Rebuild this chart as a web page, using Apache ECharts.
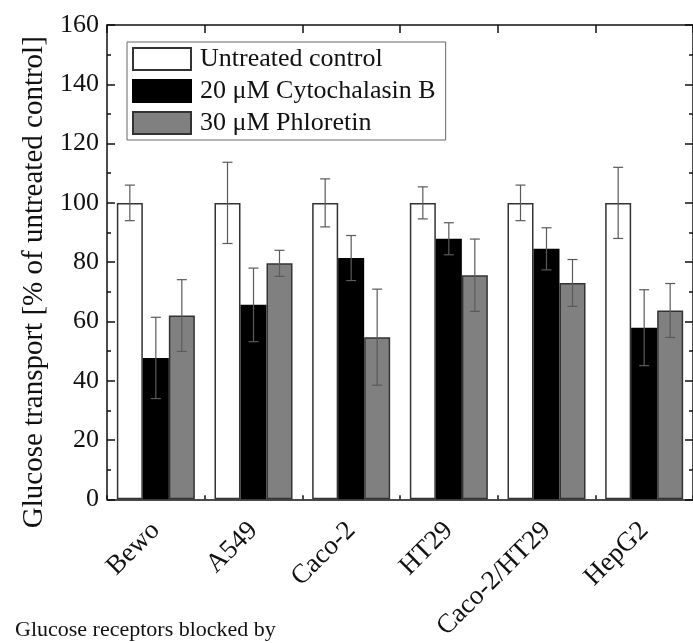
<!DOCTYPE html>
<html>
<head>
<meta charset="utf-8">
<script src="https://cdn.jsdelivr.net/npm/echarts@6/dist/echarts.min.js"></script>
<style>
html,body{margin:0;padding:0;background:#fff;}
#chart{width:693px;height:643px;}
</style>
</head>
<body>
<div id="chart"></div>
<script>
var categories = ['Bewo', 'A549', 'Caco-2', 'HT29', 'Caco-2/HT29', 'HepG2'];
var seriesNames = ['Untreated control', '20 \u03bcM Cytochalasin B', '30 \u03bcM Phloretin'];
var untreated = [100, 100, 100, 100, 100, 100];
var untreatedErr = [6, 13.7, 8.1, 5.4, 6, 12];
var cytochalasin = [47.7, 65.6, 81.4, 87.9, 84.5, 57.9];
var cytochalasinErr = [13.7, 12.4, 7.6, 5.4, 7.1, 12.8];
var phloretin = [62.0, 79.6, 54.7, 75.6, 73.0, 63.7];
var phloretinErr = [12.1, 4.4, 16.2, 12.2, 7.9, 9.1];

var FONT = '"Liberation Serif", "DejaVu Serif", serif';
var BAR_W = 26;
var GRID = { left: 107, top: 25, right: -5, bottom: 143 };

function errSeries(values, errs, offset) {
  var data = values.map(function (v, i) { return [i, v, errs[i]]; });
  return {
    type: 'custom',
    z: 10,
    silent: true,
    data: data,
    renderItem: function (params, api) {
      var i = api.value(0), v = api.value(1), e = api.value(2);
      var top = api.coord([i, v + e]);
      var bot = api.coord([i, v - e]);
      var x = top[0] + offset;
      var cap = 5;
      var st = { stroke: '#5a5a5a', lineWidth: 1.2 };
      return {
        type: 'group',
        children: [
          { type: 'line', shape: { x1: x, y1: top[1], x2: x, y2: bot[1] }, style: st },
          { type: 'line', shape: { x1: x - cap, y1: top[1], x2: x + cap, y2: top[1] }, style: st },
          { type: 'line', shape: { x1: x - cap, y1: bot[1], x2: x + cap, y2: bot[1] }, style: st }
        ]
      };
    }
  };
}

var chart = echarts.init(document.getElementById('chart'));
var axisLine = { show: true, onZero: false, lineStyle: { color: '#111', width: 1.5 } };
var tickStyle = { color: '#111', width: 1.5 };
var option = {
  animation: false,
  backgroundColor: '#fff',
  textStyle: { fontFamily: FONT },
  grid: [
    { left: GRID.left, top: GRID.top, right: GRID.right, bottom: GRID.bottom },
    { left: GRID.left, top: GRID.top, right: GRID.right, bottom: GRID.bottom }
  ],
  legend: {
    orient: 'vertical',
    left: 127,
    top: 42,
    padding: [4, 10, 4, 5],
    itemGap: 6,
    itemWidth: 58,
    itemHeight: 22,
    icon: 'rect',
    borderColor: '#666',
    borderWidth: 1,
    backgroundColor: '#fff',
    textStyle: { fontFamily: FONT, fontSize: 26, color: '#111', padding: [0, 0, 0, 4] },
    data: seriesNames
  },
  xAxis: [
    {
      type: 'category', data: categories, position: 'bottom', gridIndex: 0,
      axisLine: axisLine,
      axisTick: { show: true, inside: true, length: 4, lineStyle: tickStyle },
      axisLabel: { rotate: 45, margin: 27, fontFamily: FONT, fontSize: 27, color: '#111' },
      splitLine: { show: false }
    },
    {
      type: 'category', data: categories, position: 'top', gridIndex: 0,
      axisLine: axisLine,
      axisTick: { show: true, inside: true, length: 4, lineStyle: tickStyle },
      axisLabel: { show: false },
      splitLine: { show: false }
    },
    {
      type: 'value', min: -0.5, max: 5.5, interval: 1, position: 'top', gridIndex: 1,
      axisLine: { show: false, onZero: false },
      axisTick: { show: true, inside: true, length: 8, lineStyle: tickStyle },
      axisLabel: { show: false },
      splitLine: { show: false }
    }
  ],
  yAxis: [
    {
      type: 'value', min: 0, max: 160, interval: 20, position: 'left', gridIndex: 0,
      name: 'Glucose transport [% of untreated control]',
      nameLocation: 'middle',
      nameGap: 54,
      nameTextStyle: { fontFamily: FONT, fontSize: 29, color: '#111', padding: [0, 40, 0, 0] },
      axisLine: axisLine,
      axisTick: { show: true, inside: true, length: 8, lineStyle: tickStyle },
      minorTick: { show: true, splitNumber: 2, length: 4, lineStyle: tickStyle },
      axisLabel: { fontFamily: FONT, fontSize: 26, color: '#111', margin: 8 },
      splitLine: { show: false }
    },
    {
      type: 'value', min: 0, max: 160, interval: 20, position: 'right', gridIndex: 0,
      axisLine: axisLine,
      axisTick: { show: true, inside: true, length: 8, lineStyle: tickStyle },
      minorTick: { show: true, splitNumber: 2, length: 4, lineStyle: tickStyle },
      axisLabel: { show: false },
      splitLine: { show: false }
    },
    {
      type: 'value', min: 0, max: 160, gridIndex: 1, show: false,
      axisLine: { onZero: false }
    }
  ],
  series: [
    {
      name: seriesNames[0], type: 'bar', data: untreated, barWidth: BAR_W, barGap: '0%',
      itemStyle: { color: '#ffffff', borderColor: '#333', borderWidth: 1.5 }
    },
    {
      name: seriesNames[1], type: 'bar', data: cytochalasin, barWidth: BAR_W, barGap: '0%',
      itemStyle: { color: '#000000', borderColor: '#000', borderWidth: 1.5 }
    },
    {
      name: seriesNames[2], type: 'bar', data: phloretin, barWidth: BAR_W, barGap: '0%',
      itemStyle: { color: '#808080', borderColor: '#333', borderWidth: 1.5 }
    },
    errSeries(untreated, untreatedErr, -BAR_W),
    errSeries(cytochalasin, cytochalasinErr, 0),
    errSeries(phloretin, phloretinErr, BAR_W)
  ],
  graphic: [
    {
      type: 'text', left: 15, top: 619,
      style: { text: 'Glucose receptors blocked by', fontFamily: FONT, fontSize: 22, fill: '#111' }
    }
  ]
};
chart.setOption(option);
</script>
</body>
</html>
